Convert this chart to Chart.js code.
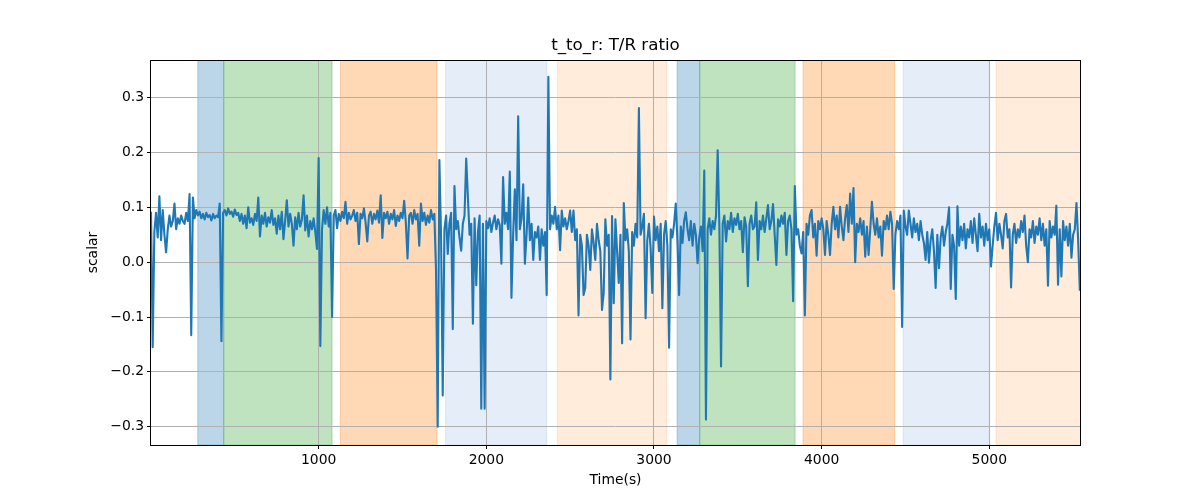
<!DOCTYPE html>
<html>
<head>
<meta charset="utf-8">
<title>t_to_r: T/R ratio</title>
<script src="https://cdn.jsdelivr.net/npm/chart.js@4.4.1/dist/chart.umd.min.js"></script>
<style>
  html, body { margin: 0; padding: 0; background: #fff; }
  #wrap { width: 1200px; height: 500px; }
</style>
</head>
<body>
<div id="wrap"><canvas id="ratioChart" width="1200" height="500"></canvas></div>
<script>
// one sample every 10 s
var sampleStep = 10;
var ratio = [
  0.092, -0.155, 0.055, 0.09, 0.045, 0.12, 0.04, 0.095, 0.05, 0.018, 0.06, 0.085, 0.065, 0.075, 0.107, 0.06, 0.08, 0.07, 0.085, 0.075,
  0.07, 0.09, 0.075, 0.124, -0.133, 0.118, 0.08, 0.095, 0.085, 0.092, 0.08, 0.088, 0.078, 0.09, 0.082, 0.086, 0.076, 0.088, 0.08, 0.085,
  0.082, 0.107, -0.144, 0.09, 0.095, 0.085, 0.098, 0.088, 0.092, 0.083, 0.096, 0.086, 0.09, 0.075, 0.088, 0.07, 0.085, 0.062, 0.1, 0.072,
  0.08, 0.068, 0.088, 0.075, 0.118, 0.047, 0.085, 0.07, 0.09, 0.065, 0.082, 0.072, 0.095, 0.068, 0.08, 0.052, 0.085, 0.06, 0.092, 0.042,
  0.075, 0.113, 0.065, 0.088, 0.07, 0.03, 0.082, 0.06, 0.09, 0.065, 0.078, 0.122, 0.058, 0.085, 0.047, 0.075, 0.06, 0.08, 0.055, 0.024,
  0.19, -0.153, 0.06, 0.095, 0.07, 0.1, 0.065, 0.09, -0.1, 0.085, 0.095, 0.062, 0.088, 0.075, 0.092, 0.08, 0.11, 0.07, 0.09, 0.078,
  0.085, 0.095, 0.075, 0.09, 0.033, 0.088, 0.08, 0.098, 0.072, 0.038, 0.085, 0.092, 0.07, 0.088, 0.078, 0.094, 0.072, 0.122, 0.044, 0.09,
  0.08, 0.092, 0.07, 0.088, 0.078, 0.095, 0.066, 0.085, 0.075, 0.09, 0.08, 0.112, 0.072, 0.007, 0.085, 0.09, 0.07, 0.095, 0.078, 0.088,
  0.03, 0.107, 0.075, 0.09, 0.068, 0.085, 0.072, 0.095, 0.078, 0.088, -0.014, -0.3, 0.186, 0.05, -0.243, 0.06, 0.085, 0.015, 0.07, 0.09,
  -0.122, 0.139, 0.06, 0.075, 0.045, 0.021, 0.07, 0.085, 0.189, 0.119, 0.05, 0.07, -0.112, 0.08, -0.042, 0.055, 0.085, -0.267, 0.07, -0.267,
  0.075, 0.062, 0.08, 0.055, 0.072, 0.085, 0.06, 0.078, 0.068, -0.003, 0.155, 0.07, 0.09, 0.06, 0.165, -0.065, 0.05, 0.133, 0.04, 0.266,
  0.06, 0.08, 0.142, -0.003, 0.05, 0.118, 0.04, 0.07, 0.004, 0.055, 0.045, 0.065, 0.004, 0.06, 0.03, 0.055, -0.06, 0.338, 0.06, 0.085,
  0.07, 0.101, 0.06, 0.085, 0.022, 0.094, 0.065, 0.08, 0.06, 0.075, 0.094, 0.055, 0.094, 0.04, 0.06, -0.097, 0.05, 0.03, -0.06, -0.047,
  0.05, 0.03, -0.014, 0.06, 0.035, 0.004, 0.07, 0.04, 0.02, -0.087, -0.056, 0.078, 0.03, 0.05, -0.214, 0.084, -0.075, 0.078, 0.02, -0.038,
  0.05, -0.148, 0.108, 0.04, 0.06, 0.02, -0.141, 0.055, 0.03, 0.07, 0.045, 0.281, 0.05, 0.065, 0.088, -0.102, 0.04, 0.07, 0.025, -0.056,
  0.083, 0.04, 0.065, 0.02, 0.07, -0.084, 0.05, 0.075, 0.03, -0.156, 0.06, 0.045, 0.07, 0.107, 0.04, -0.06, 0.065, 0.035, 0.075, 0.091,
  0.06, 0.04, 0.075, 0.03, 0.07, 0.05, -0.002, 0.045, 0.065, 0.02, 0.167, -0.287, 0.06, 0.08, 0.05, 0.075, 0.06, 0.085, 0.204, 0.065,
  -0.19, 0.07, 0.085, 0.038, 0.075, 0.06, 0.09, 0.055, 0.08, 0.068, 0.088, 0.06, 0.075, 0.018, 0.082, 0.065, -0.044, 0.07, 0.085, 0.06,
  0.065, 0.109, 0.004, 0.075, 0.06, 0.085, 0.055, 0.08, 0.104, 0.06, 0.075, 0.106, 0.05, -0.005, 0.078, 0.065, 0.085, 0.07, 0.09, 0.013,
  0.075, 0.085, 0.06, -0.071, 0.139, 0.05, 0.06, 0.03, 0.016, 0.055, -0.097, 0.07, 0.05, 0.085, 0.095, 0.045, 0.07, 0.012, 0.075, 0.06,
  0.08, 0.06, 0.013, 0.075, 0.05, 0.013, 0.07, 0.101, 0.06, 0.085, 0.045, 0.101, 0.065, 0.04, 0.08, 0.104, 0.055, 0.125, 0.07, 0.135,
  0.0, 0.07, 0.055, 0.08, 0.05, 0.075, 0.01, 0.065, 0.013, 0.06, 0.11, 0.07, 0.05, 0.08, 0.045, 0.065, 0.012, 0.075, 0.06, 0.085,
  0.06, 0.092, 0.07, -0.049, 0.05, 0.075, 0.06, 0.085, -0.118, 0.094, 0.065, 0.05, 0.094, 0.07, 0.045, 0.08, 0.055, 0.07, 0.04, 0.075,
  0.05, 0.035, 0.004, 0.055, -0.001, 0.04, 0.06, 0.02, -0.047, 0.05, -0.011, 0.045, 0.065, 0.03, 0.055, 0.07, 0.1, -0.049, 0.05, 0.03,
  -0.067, 0.102, 0.03, 0.065, 0.04, 0.07, 0.025, 0.06, 0.045, 0.075, 0.035, 0.08, 0.05, 0.02, 0.088, 0.045, 0.065, 0.03, 0.07, 0.04,
  0.06, -0.008, 0.03, 0.065, 0.09, 0.04, 0.07, 0.05, 0.025, 0.075, 0.088, 0.045, 0.06, -0.046, 0.05, 0.07, 0.035, 0.06, 0.045, 0.075,
  0.055, 0.085, 0.03, 0.0, 0.06, 0.045, 0.075, 0.035, 0.065, 0.05, 0.08, 0.04, 0.07, 0.03, 0.06, -0.043, 0.075, 0.045, 0.065, 0.05,
  0.103, -0.041, 0.06, -0.026, 0.075, 0.04, 0.065, 0.03, 0.07, 0.008, 0.05, 0.06, 0.108, 0.04, -0.052
];

// shaded phases (seconds)
var spanStart = [279, 434, 1129, 1757, 2423, 3138, 3273, 3889, 4486, 5040];
var spanEnd   = [434, 1080, 1706, 2361, 3077, 3273, 3842, 4436, 5000, 5560];
var spanPhase = ["blue", "green", "orange", "lightblue", "lightorange",
                 "blue", "green", "orange", "lightblue", "lightorange"];

var xTicks = [1000, 2000, 3000, 4000, 5000];
var yTicks = [-0.3, -0.2, -0.1, 0.0, 0.1, 0.2, 0.3];

var points = ratio.map(function (v, i) {
  return { x: i * sampleStep, y: v };
});

var phaseColors = {
  blue: "rgba(31,119,180,0.3)",
  green: "rgba(44,160,44,0.3)",
  orange: "rgba(255,127,14,0.3)",
  lightblue: "rgba(70,130,210,0.14)",
  lightorange: "rgba(255,127,14,0.15)"
};

var spanPlugin = {
  id: "phaseSpans",
  beforeDraw: function (chart) {
    var ctx = chart.ctx;
    var area = chart.chartArea;
    var xs = chart.scales.x;
    ctx.save();
    ctx.beginPath();
    ctx.rect(area.left, area.top, area.right - area.left, area.bottom - area.top);
    ctx.clip();
    for (var i = 0; i < spanStart.length; i++) {
      var x0 = xs.getPixelForValue(spanStart[i]);
      var x1 = xs.getPixelForValue(spanEnd[i]);
      ctx.fillStyle = phaseColors[spanPhase[i]];
      ctx.fillRect(x0, area.top, x1 - x0, area.bottom - area.top);
      ctx.strokeStyle = phaseColors[spanPhase[i]];
      ctx.lineWidth = 1;
      ctx.strokeRect(x0, area.top, x1 - x0, area.bottom - area.top);
    }
    ctx.restore();
  },
  afterDraw: function (chart) {
    // matplotlib style frame around the axes
    var ctx = chart.ctx;
    var a = chart.chartArea;
    ctx.save();
    ctx.strokeStyle = "#000";
    ctx.lineWidth = 1;
    ctx.strokeRect(Math.round(a.left) - 0.5, Math.round(a.top) + 0.5,
                   Math.round(a.right - a.left) + 1, Math.round(a.bottom - a.top));
    ctx.restore();
  }
};

function minusSign(s) {
  return s.replace("-", "\u2212");
}

document.addEventListener("DOMContentLoaded", function () {
  Chart.defaults.font.family = "'DejaVu Sans', sans-serif";
  Chart.defaults.font.size = 13.9;
  Chart.defaults.color = "#000";

  var ctx = document.getElementById("ratioChart").getContext("2d");
  var ratioChart = new Chart(ctx, {
    type: "line",
    data: {
      datasets: [
        {
          label: "t_to_r",
          data: points,
          borderColor: "#1f77b4",
          borderWidth: 2.1,
          borderJoinStyle: "round",
          pointRadius: 0,
          tension: 0,
          fill: false
        }
      ]
    },
    options: {
      responsive: false,
      animation: false,
      layout: { padding: { left: 0, right: 120, top: 0, bottom: 0 } },
      plugins: {
        legend: { display: false },
        tooltip: { enabled: false },
        title: {
          display: true,
          text: "t_to_r: T/R ratio",
          fullSize: false,
          font: { size: 16.7, weight: "normal", lineHeight: 1.2 },
          padding: { top: 36, bottom: 4 }
        }
      },
      scales: {
        x: {
          type: "linear",
          min: 0,
          max: 5541,
          afterBuildTicks: function (scale) {
            scale.ticks = xTicks.map(function (v) { return { value: v }; });
          },
          afterFit: function (scale) { scale.height = 55; },
          ticks: {
            padding: 3,
            maxRotation: 0,
            callback: function (v) { return String(v); }
          },
          grid: { color: "#b0b0b0", lineWidth: 1, tickColor: "#000", tickLength: 4 },
          border: { display: false },
          title: {
            display: true,
            text: "Time(s)",
            font: { size: 13.9, lineHeight: 1.2 },
            padding: { top: 0, bottom: 11 }
          }
        },
        y: {
          min: -0.3333,
          max: 0.3685,
          afterBuildTicks: function (scale) {
            scale.ticks = yTicks.map(function (v) { return { value: v }; });
          },
          afterFit: function (scale) { scale.width = 151; },
          ticks: {
            padding: 3,
            callback: function (v) { return minusSign(v.toFixed(1)); }
          },
          grid: { color: "#b0b0b0", lineWidth: 1, tickColor: "#000", tickLength: 4 },
          border: { display: false },
          title: {
            display: true,
            text: "scalar",
            font: { size: 13.9, lineHeight: 1.2 },
            padding: { top: 85, bottom: 0 }
          }
        }
      }
    },
    plugins: [spanPlugin]
  });
});
</script>
</body>
</html>
